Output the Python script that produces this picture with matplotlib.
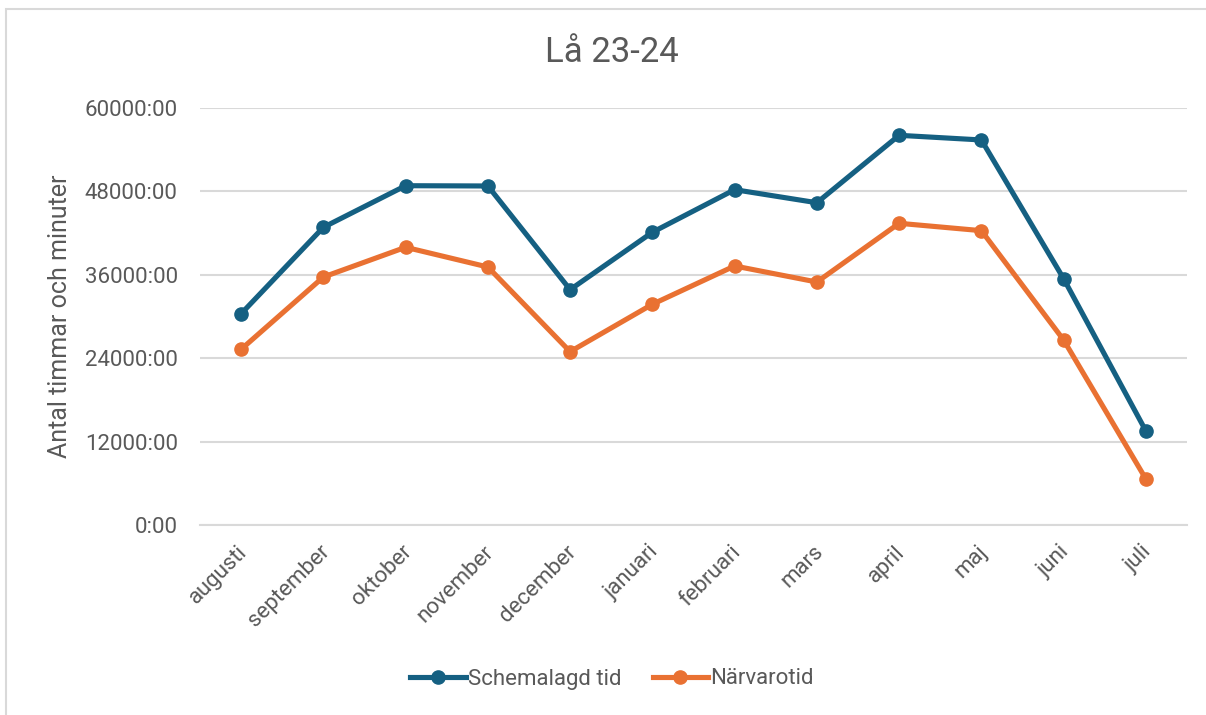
import matplotlib
matplotlib.use("Agg")
import matplotlib.pyplot as plt
from matplotlib.patches import Rectangle
from matplotlib.ticker import FuncFormatter, MultipleLocator
import matplotlib.transforms as mtransforms

months = ["augusti", "september", "oktober", "november", "december", "januari",
          "februari", "mars", "april", "maj", "juni", "juli"]
schemalagd = [30400, 42830, 48820, 48780, 33860, 42120, 48250, 46370, 56070, 55400, 35440, 13530]
narvaro = [25280, 35680, 39960, 37120, 24940, 31760, 37270, 34960, 43410, 42350, 26620, 6620]
series_names = ["Schemalagd tid", "Närvarotid"]
title = "Lå 23-24"
ylabel = "Antal timmar och minuter"

BLUE = "#156082"
ORANGE = "#E97132"
TXT = "#595959"
GRID = "#d9d9d9"

plt.rcParams['font.family'] = ['Roboto', 'DejaVu Sans']

fig = plt.figure(figsize=(12.06, 7.15), dpi=100)
fig.patch.set_facecolor("white")
fig.patches.append(Rectangle((6/1206, -0.01), 1.02, 1 - 9/715 + 0.01, transform=fig.transFigure,
                             fill=False, edgecolor=GRID, linewidth=1.5))

ax = fig.add_axes([200/1206, 1 - 525/715, 987/1206, (525 - 108)/715])
x = list(range(len(months)))
ax.plot(x, schemalagd, color=BLUE, lw=3.7, marker="o", ms=9.5, label=series_names[0],
        solid_joinstyle="round", zorder=3)
ax.plot(x, narvaro, color=ORANGE, lw=3.7, marker="o", ms=9.5, label=series_names[1],
        solid_joinstyle="round", zorder=3)

ax.set_xlim(-0.5, len(months) - 0.5)
ax.set_ylim(0, 60000)
ax.yaxis.set_major_locator(MultipleLocator(12000))
ax.yaxis.set_major_formatter(FuncFormatter(lambda v, p: f"{int(v)}:00"))
ax.grid(axis="y", color=GRID, lw=1.5, zorder=0)
ax.set_axisbelow(True)
for s in ["top", "right", "left"]:
    ax.spines[s].set_visible(False)
ax.spines["bottom"].set_color(GRID)
ax.spines["bottom"].set_linewidth(1.5)
ax.tick_params(axis="both", length=0, colors=TXT)
ax.tick_params(axis="y", pad=16, labelsize=16)
ax.set_xticks(x)
ax.set_xticklabels(months, rotation=45, ha="right", va="center", rotation_mode="anchor",
                   fontsize=16)
offset = mtransforms.ScaledTranslation(3/100, -19/100, fig.dpi_scale_trans)
for lab in ax.get_xticklabels():
    lab.set_transform(lab.get_transform() + offset)
    lab.set_color(TXT)

ax.set_ylabel(ylabel, color=TXT, fontsize=18)
ax.yaxis.set_label_coords(-128/987, 0.5)

fig.text(612/1206, 1 - 52/715, title, ha="center", va="center", fontsize=25, color=TXT)

leg = fig.legend(loc="center", bbox_to_anchor=(612/1206, 1 - 679/715), ncol=2, frameon=False,
                 fontsize=16, handlelength=2.5, handletextpad=0.1, columnspacing=1.4)
for t in leg.get_texts():
    t.set_color(TXT)

fig.savefig("out.png", dpi=100, facecolor="white")
